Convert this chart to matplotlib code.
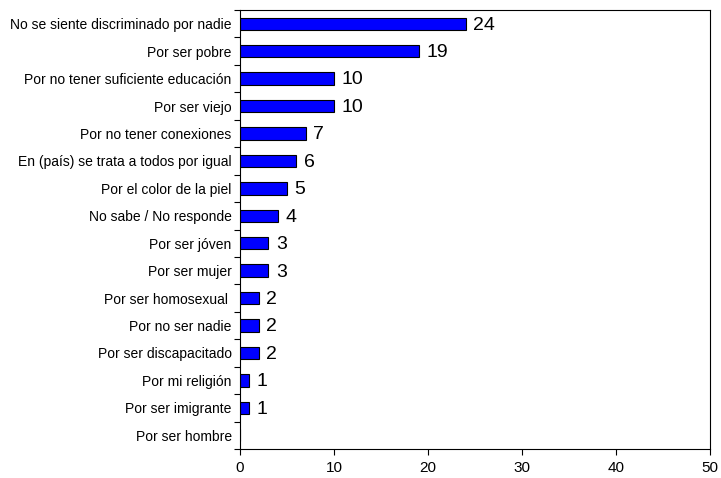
import matplotlib
matplotlib.use("Agg")
import matplotlib.pyplot as plt
import numpy as np
from matplotlib import font_manager

categories = [
    "No se siente discriminado por nadie",
    "Por ser pobre",
    "Por no tener suficiente educación",
    "Por ser viejo",
    "Por no tener conexiones",
    "En (país) se trata a todos por igual",
    "Por el color de la piel",
    "No sabe / No responde",
    "Por ser jóven",
    "Por ser mujer",
    "Por ser homosexual ",
    "Por no ser nadie",
    "Por ser discapacitado",
    "Por mi religión",
    "Por ser imigrante",
    "Por ser hombre",
]
values = [24, 19, 10, 10, 7, 6, 5, 4, 3, 3, 2, 2, 2, 1, 1, 0]
value_labels = ["24", "19", "10", "10", "7", "6", "5", "4", "3", "3", "2", "2", "2", "1", "1", ""]
xticks = [0, 10, 20, 30, 40, 50]

plt.rcParams['font.family'] = ['Liberation Sans', 'DejaVu Sans']
names = {f.name for f in font_manager.fontManager.ttflist}
narrow = 'Liberation Sans Narrow' if 'Liberation Sans Narrow' in names else 'Liberation Sans'

fig = plt.figure(figsize=(7.21, 4.78), dpi=100)
ax = fig.add_axes([240/721, 29/478, 470/721, 439/478])

y = np.arange(len(categories))
ax.barh(y, values, height=0.45, color="#0000FF", edgecolor="black", linewidth=0.8)
for yi, v, lab in zip(y, values, value_labels):
    if lab:
        ax.text(v + 0.8, yi + 0.05, lab, va="center", ha="left", fontsize=14)

ax.set_ylim(len(categories) - 0.5, -0.5)
ax.set_xlim(0, 50)
ax.set_yticks(y)
ax.set_yticklabels(categories, fontsize=10)
ax.set_yticks(np.arange(-0.5, len(categories), 1), minor=True)
ax.tick_params(axis="y", which="major", length=0, pad=6)
ax.tick_params(axis="y", which="minor", length=4, direction="out", width=0.8)
ax.set_xticks(xticks)
ax.set_xticklabels([str(t) for t in xticks], fontsize=11, family=[narrow, 'DejaVu Sans'])
ax.tick_params(axis="x", length=4, direction="out", width=0.8, pad=5)
for s in ax.spines.values():
    s.set_linewidth(0.8)

fig.savefig("out.png", dpi=100)
